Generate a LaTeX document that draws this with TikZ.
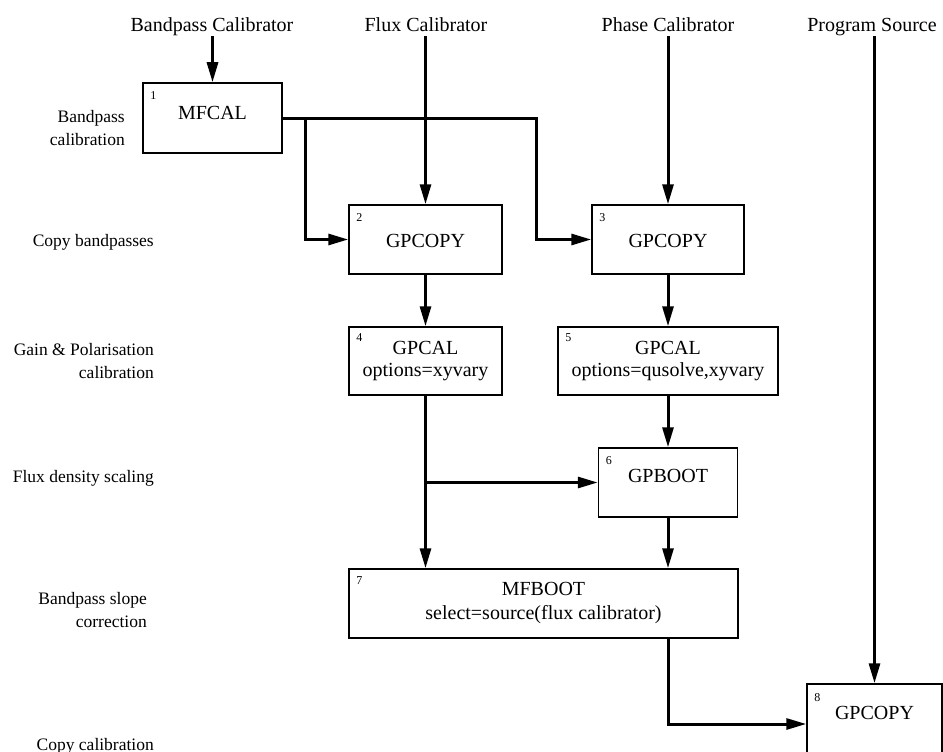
\documentclass[tikz,border=0pt]{standalone}
\usepackage{fontspec}
\setmainfont{Liberation Serif}
\usetikzlibrary{arrows.meta}
\begin{document}
\begin{tikzpicture}[x=1pt,y=-1pt,
  box/.style={draw, line width=1.5pt, inner sep=0pt, align=center, font=\fontsize{20}{22}\selectfont},
  num/.style={inner sep=0pt, anchor=base west, font=\fontsize{12}{14}\selectfont},
  src/.style={inner sep=0pt, anchor=base, font=\fontsize{20}{24}\selectfont, text depth=4pt},
  side/.style={inner sep=0pt, anchor=base east, align=right, font=\fontsize{17.5}{22.5}\selectfont},
  wire/.style={line width=3pt, line join=miter},
  conn/.style={wire, -{Triangle[length=20pt,width=11pt]}}]
\useasboundingbox (0,0) rectangle (943,752);
\clip (0,0) rectangle (943,752);

% source labels
\node[src] (bpc) at (212,32) {Bandpass Calibrator};
\node[src] (fc) at (426,32) {Flux Calibrator};
\node[src] (pc) at (668,32) {Phase Calibrator};
\node[src] (ps) at (872,32) {Program Source};

% boxes
\node[box, minimum width=139pt, minimum height=70pt, text height=14pt, text depth=12pt] (b1) at (212.5,118) {MFCAL};
\node[box, minimum width=153pt, minimum height=69pt, text height=20pt, text depth=5pt] (b2) at (425.5,239.5) {GPCOPY};
\node[box, minimum width=152pt, minimum height=69pt, text height=20pt, text depth=5pt] (b3) at (668,239.5) {GPCOPY};
\node[box, minimum width=153pt, minimum height=68pt] (b4) at (425.5,361) {GPCAL\\options=xyvary};
\node[box, minimum width=220pt, minimum height=68pt] (b5) at (668,361) {GPCAL\\options=qusolve,xyvary};
\node[box, minimum width=139pt, minimum height=69pt, text height=14pt, text depth=15pt] (b6) at (668,482.5) {GPBOOT};
\node[box, minimum width=389pt, minimum height=69pt] (b7) at (543.5,603.5) {MFBOOT\\[2pt]select=source(flux calibrator)};
\node[box, minimum width=135pt, minimum height=80pt, text height=14pt, text depth=24pt] (b8) at (874.5,724) {GPCOPY};

% box numbers
\node[num] (n1) at ([xshift=8pt,yshift=-17pt]b1.north west) {1};
\node[num] (n2) at ([xshift=8pt,yshift=-17pt]b2.north west) {2};
\node[num] (n3) at ([xshift=8pt,yshift=-17pt]b3.north west) {3};
\node[num] (n4) at ([xshift=8pt,yshift=-15pt]b4.north west) {4};
\node[num] (n5) at ([xshift=8pt,yshift=-15pt]b5.north west) {5};
\node[num] (n6) at ([xshift=8pt,yshift=-17pt]b6.north west) {6};
\node[num] (n7) at ([xshift=8pt,yshift=-16pt]b7.north west) {7};
\node[num] (n8) at ([xshift=8pt,yshift=-18pt]b8.north west) {8};

% side labels (base = last line)
\node[side] (l1) at (125,145) {Bandpass\\calibration};
\node[side] (l2) at (154,246) {Copy bandpasses};
\node[side] (l3) at (154,378) {Gain \& Polarisation\\calibration};
\node[side] (l4) at (154,482) {Flux density scaling};
\node[side] (l5) at (147,627) {Bandpass slope\\correction};
\node[side] (l6) at (154,750) {Copy calibration};

% junctions
\coordinate (j1) at (305,118);
\coordinate (j2) at (536,118);

% connectors
\draw[conn] (bpc.south -| b1.north) -- (b1.north);
\draw[conn] (fc.south -| b2.north) -- (b2.north);
\draw[conn] (pc.south -| b3.north) -- (b3.north);
\draw[conn] (ps.south -| b8.north) -- (b8.north);
\draw[conn] (b1.east) -- (j2) |- (b3.west);
\draw[conn] (j1) |- (b2.west);
\draw[conn] (b2.south) -- (b4.north);
\draw[conn] (b3.south) -- (b5.north);
\draw[conn] (b4.south) -- (b4.south |- b7.north);
\draw[conn] (b4.south |- b6.west) -- (b6.west);
\draw[conn] (b5.south) -- (b6.north);
\draw[conn] (b6.south) -- (b6.south |- b7.north);
\draw[conn] (b6.south |- b7.south) |- (b8.west);
\end{tikzpicture}
\end{document}
